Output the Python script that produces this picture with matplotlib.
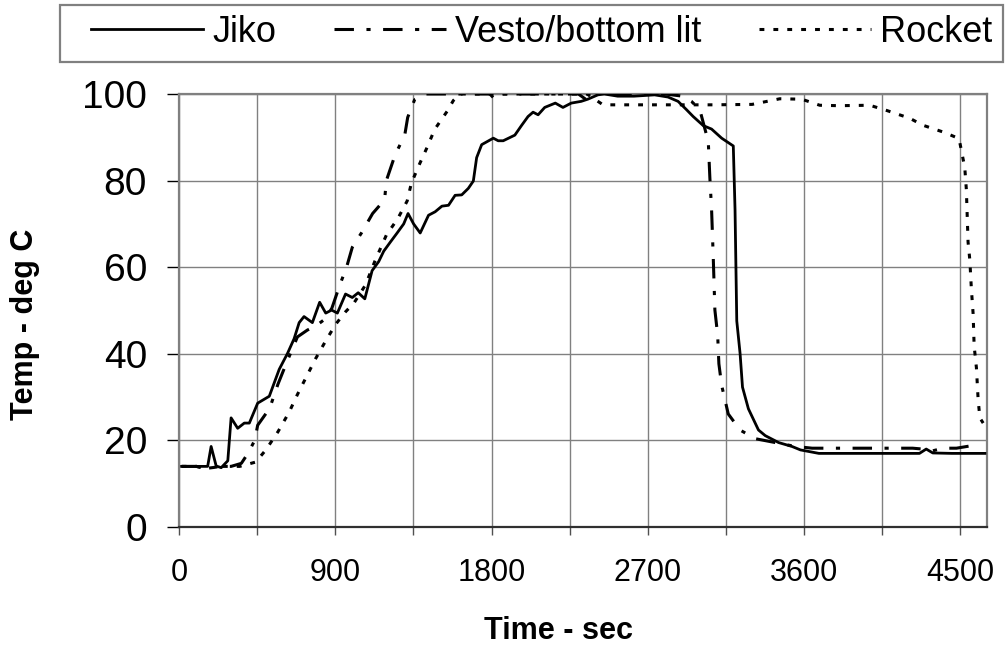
import matplotlib
matplotlib.use("Agg")
import matplotlib.pyplot as plt
from matplotlib.lines import Line2D
from matplotlib.patches import Rectangle

# --- data (time in seconds, temperature in deg C) ---
jiko_t = [15, 60, 120, 165, 185, 214, 243, 281, 300, 338, 376, 405, 453, 520,
          577, 625, 663, 692, 720, 768, 810, 845, 879, 912, 959, 998, 1032,
          1070, 1112, 1150, 1179, 1217, 1256, 1294, 1319, 1351, 1389, 1437,
          1475, 1514, 1552, 1590, 1628, 1666, 1695, 1714, 1743, 1810, 1838,
          1867, 1934, 1972, 2010, 2039, 2068, 2106, 2167, 2211, 2259, 2316,
          2354, 2412, 2449, 2526, 2620, 2739, 2816, 2874, 2922, 2961, 3019,
          3067, 3125, 3192, 3202, 3212, 3231, 3245, 3279, 3337, 3376, 3453,
          3530, 3579, 3685, 3800, 4000, 4264, 4303, 4341, 4450, 4641]
jiko_temp = [14, 14, 14, 14, 18.6, 14.1, 13.7, 15.3, 25.2, 22.8, 24.0, 24.0,
             28.6, 30.2, 36.4, 40.1, 43.5, 47.2, 48.6, 47.2, 51.9, 49.4, 50.1,
             49.4, 53.8, 53.0, 54.1, 52.7, 59.2, 61.3, 63.7, 65.8, 67.9, 70.0,
             72.4, 70.0, 67.9, 72.0, 72.8, 74.1, 74.3, 76.6, 76.7, 78.2, 79.9,
             85.3, 88.3, 89.8, 89.2, 89.2, 90.5, 92.7, 94.8, 95.8, 95.2, 96.9,
             97.9, 96.9, 97.9, 98.3, 98.8, 99.8, 100, 99.5, 99.5, 99.8, 99.3,
             98.3, 96.4, 94.8, 92.7, 91.9, 89.8, 88.0, 73.3, 47.6, 40.1, 32.3,
             27.3, 22.4, 21.1, 19.5, 18.6, 17.8, 17.0, 17.0, 17.0, 17.0, 18.0,
             17.1, 17.0, 17.0]

vesto_t = [15, 100, 160, 240, 300, 359, 397, 436, 453, 522, 570, 620, 682,
           740, 787, 840, 880, 927, 965, 998, 1052, 1115, 1165, 1185, 1194,
           1245, 1300, 1317, 1357, 1420, 1500, 1600, 1700, 1790, 1819,
           1850, 2000, 2100, 2200, 2300, 2352, 2400, 2500, 2600, 2700, 2800,
           2900, 2951, 2999, 3048, 3057, 3067, 3077, 3086, 3102, 3109, 3125,
           3163, 3231, 3318, 3434, 3550, 3646, 3900, 4225, 4283, 4341, 4400,
           4477, 4583]
vesto_temp = [14, 14, 13.5, 14, 14, 14.7, 17.0, 20.0, 23.5, 27.4, 33, 38,
              43.9, 45.5, 46.4, 48, 50.5, 56, 60, 64.6, 68, 72.4, 74.7, 76,
              80, 86, 90.5, 94.6, 98.7, 100, 100, 100, 100, 100, 98.8,
              100, 100, 100, 100, 100, 98.5, 100, 100, 100, 100, 100, 99.5,
              98.3, 96.4, 89.0, 80.7, 73.3, 61.7, 50.1, 44.3, 37.7, 32.7,
              26.1, 22.4, 20.4, 19.5, 18.6, 18.2, 18.2, 18.2, 18.0, 17.6,
              18.2, 18.2, 18.9]

rocket_t = [15, 100, 150, 250, 350, 442, 500, 570, 634, 682, 740, 787, 845,
            902, 959, 1007, 1074, 1131, 1194, 1261, 1314, 1338, 1386, 1429,
            1472, 1544, 1580, 1617, 1700, 1800, 2000, 2200, 2350, 2442, 2600,
            2800, 3075, 3300, 3460, 3586, 3690, 3800, 3978, 4075, 4208, 4283,
            4409, 4492, 4525, 4534, 4544, 4554, 4563, 4573, 4579, 4592, 4602,
            4612, 4631]
rocket_temp = [14, 14, 13.5, 14, 14, 15, 17.8, 22, 26.5, 30.6, 35.2, 38.9,
               43, 46.8, 49.7, 51.7, 55.9, 61.7, 67.4, 71.3, 75.3, 79.4, 83.9,
               87.7, 91.8, 96.0, 98.5, 100, 100, 100, 100, 100, 100, 97.5,
               97.5, 97.5, 97.5, 97.6, 98.9, 98.8, 97.4, 97.3, 97.4, 96.2,
               94.4, 92.8, 91.1, 89.7, 83, 78, 65.8, 61.7, 55, 49.3, 41.8,
               36.8, 29.4, 25.2, 24]

series_names = ["Jiko", "Vesto/bottom lit", "Rocket"]

x_ticks = [0, 450, 900, 1350, 1800, 2250, 2700, 3150, 3600, 4050, 4500]
x_tick_labels = ["0", "", "900", "", "1800", "", "2700", "", "3600", "", "4500"]
y_ticks = [0, 20, 40, 60, 80, 100]

GRID = "#808080"
INK = "black"

plt.rcParams["font.family"] = ["Liberation Sans", "DejaVu Sans"]
plt.rcParams["lines.scale_dashes"] = False

W, H = 1008, 650
fig = plt.figure(figsize=(W / 100, H / 100), dpi=100)
fig.patch.set_facecolor("white")

left, right, top, bottom = 179, 987, 94, 527
ax = fig.add_axes([left / W, 1 - bottom / H, (right - left) / W, (bottom - top) / H])

styles = [
    dict(linestyle="-", linewidth=2.0),
    dict(linestyle=(0, (14, 9, 3, 9)), linewidth=2.2),
    dict(linestyle=(0, (3.5, 6.5)), linewidth=2.2),
]

ax.plot(jiko_t, jiko_temp, color=INK, **styles[0], zorder=5)
ax.plot(vesto_t, vesto_temp, color=INK, **styles[1], zorder=4)
ax.plot(rocket_t, rocket_temp, color=INK, **styles[2], zorder=3)

ax.set_xlim(0, 4653)
ax.set_ylim(0, 100)
ax.set_xticks(x_ticks)
ax.set_xticklabels(x_tick_labels)
ax.set_yticks(y_ticks)
ax.set_yticklabels([str(v) for v in y_ticks])

ax.grid(True, color=GRID, linewidth=1.0)
ax.set_axisbelow(True)

for side in ["top", "right", "left"]:
    ax.spines[side].set_color(GRID)
    ax.spines[side].set_linewidth(1.6)
ax.spines["bottom"].set_color("#303030")
ax.spines["bottom"].set_linewidth(1.6)

ax.tick_params(axis="y", direction="out", length=9, width=1, colors=INK,
               labelsize=28, pad=14)
ax.tick_params(axis="x", direction="out", length=6, width=1, colors=INK,
               labelsize=22, pad=16)
ax.tick_params(axis="x", color="#505050")

fig.text(25 / W, 1 - 324 / H, "Temp - deg C", rotation=90, ha="center",
         va="center", fontsize=22, fontweight="bold")
fig.text(558 / W, 1 - 631 / H, "Time - sec", ha="center", va="center",
         fontsize=22, fontweight="bold")

# legend box drawn separately so it can be placed exactly
fig.patches.append(Rectangle((60 / W, 1 - 62 / H), (1003 - 60) / W, 57 / H,
                             transform=fig.transFigure, facecolor="white",
                             edgecolor=GRID, linewidth=1.6))
handles = [Line2D([], [], color=INK, **s) for s in styles]
fig.legend(handles, series_names, loc="center left",
           bbox_to_anchor=(91 / W, 1 - 32 / H), ncol=3, frameon=False,
           fontsize=26, handlelength=3.1, handletextpad=0.25,
           columnspacing=1.6, borderpad=0, borderaxespad=0)

fig.savefig("out.png", dpi=100, facecolor="white")
